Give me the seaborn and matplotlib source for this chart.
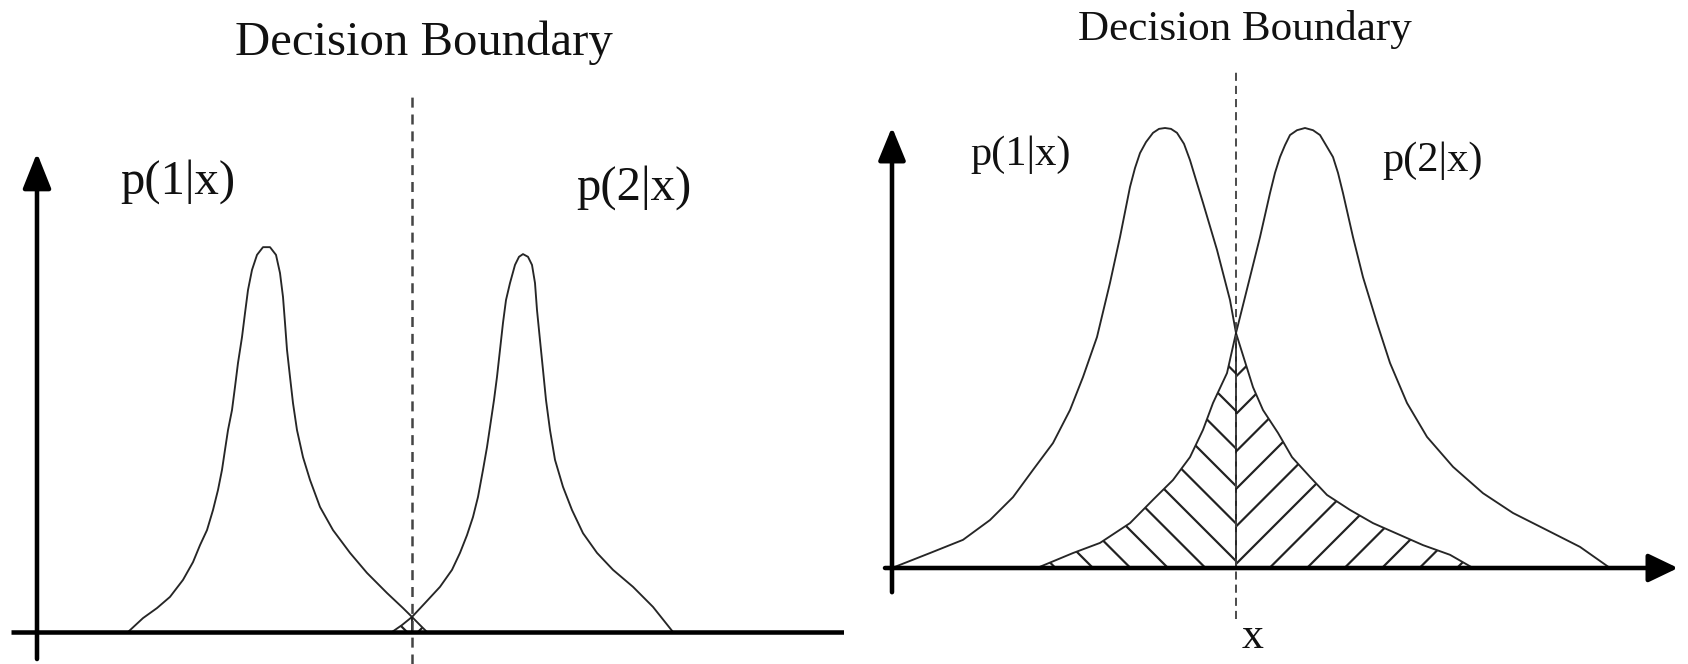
import matplotlib
matplotlib.use("Agg")
import matplotlib.pyplot as plt
import seaborn as sns

# ---------------------------------------------------------------- data
# values (x in arbitrary units from the y axis,
# y scaled so that the taller peak is about 1)

title = "Decision Boundary"
class_labels = ["p(1|x)", "p(2|x)"]
x_label = "x"

# left panel: narrow, well separated posteriors
left_p1_x = [1.82, 2.12, 2.40, 2.66, 2.92, 3.12, 3.26, 3.40, 3.52, 3.62,
             3.70, 3.76, 3.82, 3.90, 3.96, 4.02, 4.10, 4.16, 4.22, 4.30,
             4.40, 4.52, 4.66, 4.78, 4.86, 4.92, 4.96, 5.00, 5.06, 5.12,
             5.20, 5.32, 5.46, 5.66, 5.92, 6.26, 6.60, 7.00, 7.32, 7.50,
             7.66, 7.80]
left_p1_y = [0.0, 0.036, 0.062, 0.091, 0.135, 0.181, 0.225, 0.264, 0.316, 0.368,
             0.420, 0.472, 0.523, 0.575, 0.635, 0.697, 0.764, 0.826, 0.886, 0.938,
             0.977, 0.997, 0.997, 0.977, 0.930, 0.868, 0.801, 0.731, 0.661, 0.593,
             0.523, 0.453, 0.394, 0.324, 0.264, 0.205, 0.153, 0.101, 0.062, 0.039,
             0.018, 0.0]
left_p2_x = [7.10, 7.30, 7.50, 7.76, 8.06, 8.30, 8.46, 8.60, 8.72, 8.82,
             8.92, 9.00, 9.06, 9.14, 9.20, 9.26, 9.32, 9.38, 9.46, 9.56,
             9.64, 9.72, 9.82, 9.90, 9.96, 10.00, 10.06, 10.12, 10.18, 10.26,
             10.36, 10.52, 10.70, 10.92, 11.20, 11.52, 11.92, 12.32, 12.72]
left_p2_y = [0.0, 0.018, 0.039, 0.075, 0.117, 0.161, 0.205, 0.251, 0.298, 0.350,
             0.420, 0.479, 0.531, 0.601, 0.661, 0.731, 0.801, 0.860, 0.904, 0.951,
             0.972, 0.979, 0.972, 0.951, 0.904, 0.834, 0.756, 0.679, 0.601, 0.523,
             0.446, 0.376, 0.316, 0.256, 0.205, 0.161, 0.117, 0.065, 0.0]
left_boundary = 7.50

# right panel: wide, overlapping posteriors
right_p1_x = [0.0, 0.76, 1.42, 1.96, 2.42, 2.82, 3.22, 3.56, 3.82, 4.10,
              4.36, 4.56, 4.76, 4.86, 4.96, 5.08, 5.22, 5.34, 5.46, 5.58,
              5.70, 5.84, 5.96, 6.08, 6.22, 6.50, 6.76, 6.88, 7.22, 7.42,
              7.72, 8.00, 8.36, 8.70, 9.16, 9.62, 10.16, 10.62, 11.16, 11.62]
right_p1_y = [0.0, 0.034, 0.064, 0.109, 0.161, 0.223, 0.284, 0.359, 0.434, 0.525,
              0.648, 0.752, 0.866, 0.909, 0.943, 0.968, 0.989, 0.998, 1.0, 0.998,
              0.989, 0.964, 0.927, 0.882, 0.830, 0.723, 0.609, 0.534, 0.411, 0.359,
              0.307, 0.252, 0.207, 0.166, 0.132, 0.102, 0.075, 0.052, 0.030, 0.0]
right_p2_x = [2.90, 3.62, 4.16, 4.76, 5.22, 5.62, 5.96, 6.22, 6.42, 6.70,
              6.88, 7.16, 7.36, 7.56, 7.66, 7.76, 7.86, 7.96, 8.10, 8.26,
              8.42, 8.56, 8.68, 8.82, 8.92, 9.02, 9.22, 9.42, 9.70, 9.96,
              10.30, 10.70, 11.22, 11.82, 12.42, 13.10, 13.76, 14.36]
right_p2_y = [0.0, 0.034, 0.057, 0.102, 0.155, 0.200, 0.252, 0.314, 0.375, 0.443,
              0.534, 0.661, 0.752, 0.852, 0.898, 0.934, 0.961, 0.984, 0.995, 1.0,
              0.995, 0.984, 0.961, 0.934, 0.898, 0.852, 0.752, 0.661, 0.557, 0.466,
              0.375, 0.298, 0.230, 0.170, 0.125, 0.086, 0.048, 0.0]
right_boundary = 6.88

# ---------------------------------------------------------------- layout
W, H, DPI = 1688, 664, 225
PX_PER_X = 50          # horizontal pixels per x unit
INK = "#111111"
CURVE = "#262626"

sns.set_theme(style="white")
plt.rcParams["font.family"] = ["Liberation Serif", "DejaVu Serif"]
plt.rcParams["hatch.linewidth"] = 0.7
plt.rcParams["lines.scale_dashes"] = False


def fig_xy(px, py):
    return px / W, 1 - py / H


def place(ax, left_px, origin, yscale):
    # set limits so the data origin sits where the drawn axes cross
    ox, oy = origin
    ax.set_xlim((left_px - ox) / PX_PER_X, (left_px + W / 2 - ox) / PX_PER_X)
    ax.set_ylim(-(H - oy) / yscale, oy / yscale)
    ax.set_axis_off()


def arrow(ax, start, end, head_len, head_w):
    ax.annotate("", xy=end, xytext=start,
                arrowprops=dict(arrowstyle=f"-|>,head_length={head_len},head_width={head_w}",
                                mutation_scale=10, lw=1.45, color="black",
                                shrinkA=0, shrinkB=0))


def draw_panel(ax, x1, y1, x2, y2, boundary, dash_top, dash_bottom, dash_lw, dashes):
    sns.lineplot(x=x1, y=y1, ax=ax, color=CURVE, lw=0.6, estimator=None, sort=False, legend=False)
    sns.lineplot(x=x2, y=y2, ax=ax, color=CURVE, lw=0.6, estimator=None, sort=False, legend=False)

    # error region: under p(2|x) left of the boundary, under p(1|x) right of it
    lx = [x for x in x2 if x <= boundary]
    ly = y2[:len(lx)]
    rx = [x for x in x1 if x >= boundary]
    ry = y1[len(x1) - len(rx):]
    ax.fill_between(lx, 0, ly, facecolor="none", edgecolor="#222222", lw=0, hatch="\\\\")
    ax.fill_between(rx, 0, ry, facecolor="none", edgecolor="#222222", lw=0, hatch="//")

    crossing = y1[x1.index(boundary)]
    ax.vlines(boundary, 0, crossing, color="#1a1a1a", lw=0.6)
    ax.plot([boundary, boundary], [dash_bottom, dash_top], color="#444444",
            lw=dash_lw, ls=(0, dashes))


fig = plt.figure(figsize=(W / DPI, H / DPI), dpi=DPI)
fig.patch.set_facecolor("white")

# left panel
ax1 = fig.add_axes([0, 0, 0.5, 1])
place(ax1, 0, (37, 632), 386)
draw_panel(ax1, left_p1_x, left_p1_y, left_p2_x, left_p2_y, left_boundary,
           dash_top=(632 - 91) / 386, dash_bottom=-(664 - 632) / 386,
           dash_lw=0.8, dashes=(3.2, 2.2))
ax1.plot([-0.52, 16.14], [0, 0], color="black", lw=1.45, solid_capstyle="butt", zorder=3)
arrow(ax1, (0, -0.07), (0, 1.241), 0.96, 0.384)

# right panel
ax2 = fig.add_axes([0.5, 0, 0.5, 1])
place(ax2, W / 2, (892, 568), 440)
draw_panel(ax2, right_p1_x, right_p1_y, right_p2_x, right_p2_y, right_boundary,
           dash_top=(568 - 72) / 440, dash_bottom=(568 - 619) / 440,
           dash_lw=0.6, dashes=(2.6, 1.6))
arrow(ax2, (-0.14, 0), (15.72, 0), 0.8, 0.384)
arrow(ax2, (0, -0.055), (0, 1.002), 0.9, 0.37)

# text
fig.text(*fig_xy(424, 55), title, ha="center", va="baseline", fontsize=15.6, color=INK)
fig.text(*fig_xy(1245, 40), title, ha="center", va="baseline", fontsize=13.8, color=INK)
fig.text(*fig_xy(178, 194), class_labels[0], ha="center", va="baseline", fontsize=15.6, color=INK)
fig.text(*fig_xy(634, 200), class_labels[1], ha="center", va="baseline", fontsize=15.6, color=INK)
fig.text(*fig_xy(1021, 165), class_labels[0], ha="center", va="baseline", fontsize=13.6, color=INK)
fig.text(*fig_xy(1433, 171), class_labels[1], ha="center", va="baseline", fontsize=13.6, color=INK)
fig.text(*fig_xy(1253, 648), x_label, ha="center", va="baseline", fontsize=14, color=INK)

fig.savefig("out.png", dpi=DPI, facecolor="white")
